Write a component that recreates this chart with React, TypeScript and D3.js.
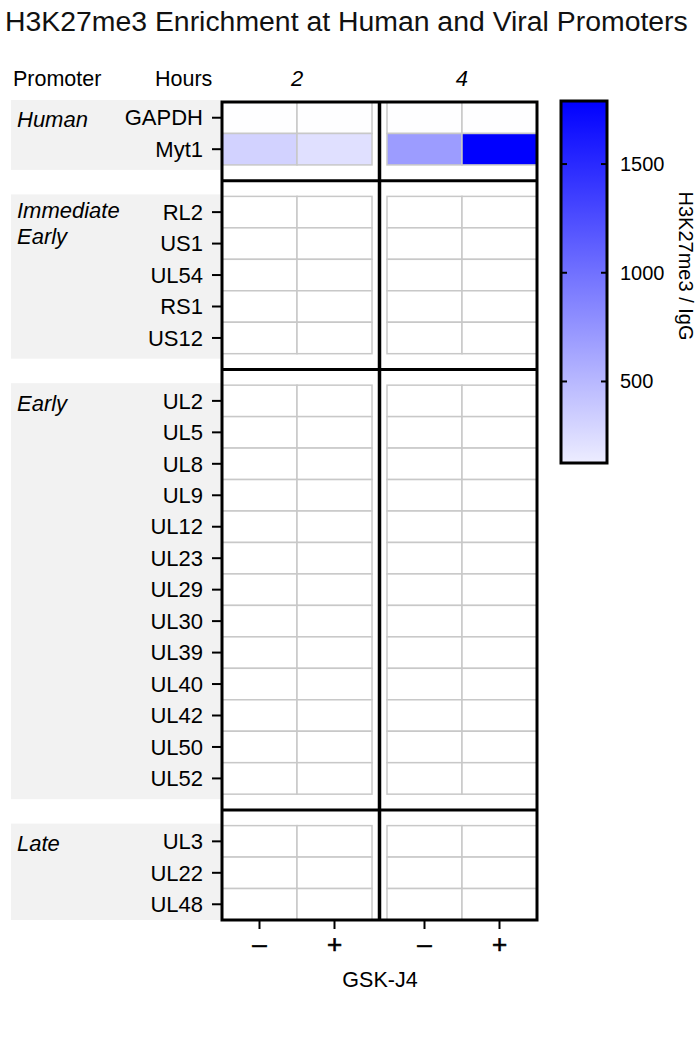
import React from "react";
import * as d3 from "d3";

// ---- data ----
const title = "H3K27me3 Enrichment at Human and Viral Promoters";
const hours = ["2", "4"];
const treatments = ["–", "+"];
const groups = ["Human", "Immediate Early", "Early", "Late"];
const humanRows = ["GAPDH", "Myt1"];
const immediateEarlyRows = ["RL2", "US1", "UL54", "RS1", "US12"];
const earlyRows = ["UL2", "UL5", "UL8", "UL9", "UL12", "UL23", "UL29", "UL30", "UL39", "UL40", "UL42", "UL50", "UL52"];
const lateRows = ["UL3", "UL22", "UL48"];
// values per row: [2h –, 2h +, 4h –, 4h +]
const humanValues = [
  [4, 4, 6, 6],
  [316, 218, 695, 1790],
];
const immediateEarlyValues = [
  [1, 1, 1, 1],
  [1, 1, 1, 1],
  [1, 1, 1, 1],
  [1, 1, 1, 1],
  [1, 1, 1, 1],
];
const earlyValues = [
  [1, 1, 1, 1],
  [1, 1, 1, 1],
  [1, 1, 1, 1],
  [1, 1, 1, 1],
  [1, 1, 1, 1],
  [1, 1, 1, 1],
  [1, 1, 1, 1],
  [1, 1, 1, 1],
  [1, 1, 1, 1],
  [1, 1, 1, 1],
  [1, 1, 1, 1],
  [1, 1, 1, 1],
  [1, 1, 1, 1],
];
const lateValues = [
  [1, 1, 1, 1],
  [1, 1, 1, 1],
  [1, 1, 1, 1],
];
const colorDomain = [0, 1790];
const legendDomain = [125, 1790];
const legendTicks = [500, 1000, 1500];
const legendTitle = "H3K27me3 / IgG";
const xTitle = "GSK-J4";

const FONT = "'Liberation Sans', Arial, Helvetica, sans-serif";

export default function App() {
  const W = 698, H = 1050;
  const plot = { left: 222, right: 537, top: 102, bottom: 920 };

  const groupRows = [humanRows, immediateEarlyRows, earlyRows, lateRows];
  const groupVals = [humanValues, immediateEarlyValues, earlyValues, lateValues];

  // y slots: rows, with a gap slot between groups
  const slots: string[] = [];
  groupRows.forEach((rows, gi) => {
    rows.forEach((r) => slots.push(r));
    if (gi < groupRows.length - 1) slots.push(`gap${gi}`);
  });
  const y = d3.scaleBand<string>().domain(slots).range([plot.top, plot.bottom]).padding(0);
  const bw = y.bandwidth();

  const xOuter = d3.scaleBand<string>().domain(hours).range([plot.left, plot.right]).paddingInner(0.0909).paddingOuter(0);
  const xInner = d3.scaleBand<string>().domain(treatments).range([0, xOuter.bandwidth()]).padding(0);
  const colX = (h: string, t: string) => (xOuter(h) as number) + (xInner(t) as number);

  const color = d3.scaleLinear<string>().domain(colorDomain).range(["#ffffff", "#0000ff"]).clamp(true);

  const cells: { x: number; y: number; w: number; h: number; c: string; key: string }[] = [];
  groupRows.forEach((rows, gi) => {
    rows.forEach((r, ri) => {
      hours.forEach((h, hi) => {
        treatments.forEach((t, ti) => {
          const v = groupVals[gi][ri][hi * 2 + ti];
          cells.push({ x: colX(h, t), y: y(r) as number, w: xInner.bandwidth(), h: bw, c: color(v), key: `${r}-${h}-${t}` });
        });
      });
    });
  });

  const gapLines = groupRows.slice(0, -1).map((_, gi) => (y(`gap${gi}`) as number) + bw / 2);
  const vDivider = ((xOuter(hours[0]) as number) + xOuter.bandwidth() + (xOuter(hours[1]) as number)) / 2;

  // legend
  const leg = { x0: 561, x1: 607, top: 101, bottom: 463 };
  const ly = d3.scaleLinear().domain(legendDomain).range([leg.bottom, leg.top]);
  const gradStops = d3.range(0, 11).map((i) => {
    const v = legendDomain[0] + (i / 10) * (legendDomain[1] - legendDomain[0]);
    return { off: `${i * 10}%`, c: color(v) };
  });

  const allRowLabels = groupRows.flat();

  return (
    <svg width={W} height={H} style={{ position: "absolute", left: 0, top: 0, background: "#fff" }} fontFamily={FONT}>
      <defs>
        <linearGradient id="legGrad" x1="0" y1="1" x2="0" y2="0">
          {gradStops.map((s) => (
            <stop key={s.off} offset={s.off} stopColor={s.c} />
          ))}
        </linearGradient>
      </defs>
      <rect width={W} height={H} fill="#fff" />
      <text x={5} y={31} fontSize={28.4} fill="#111">{title}</text>

      {/* header */}
      <text x={13} y={78} fontSize={21.5} dy="0.35em">Promoter</text>
      <text x={155} y={78} fontSize={21.5} dy="0.35em">Hours</text>
      {hours.map((h) => (
        <text key={h} x={(xOuter(h) as number) + xOuter.bandwidth() / 2} y={78} fontSize={22} dy="0.35em" fontStyle="italic" textAnchor="middle">{h}</text>
      ))}

      {/* group bands */}
      {groupRows.map((rows, gi) => {
        const top = (y(rows[0]) as number) - 2;
        const bot = Math.min((y(rows[rows.length - 1]) as number) + bw + 5, plot.bottom);
        return <rect key={gi} x={11} y={top} width={plot.left - 11} height={bot - top} fill="#f2f2f2" />;
      })}
      {groups.map((g, gi) => {
        const yc = (y(groupRows[gi][0]) as number) + bw / 2 + 2;
        const words = g === "Immediate Early" ? ["Immediate", "Early"] : [g];
        return words.map((w, wi) => (
          <text key={`${g}-${wi}`} x={17} y={yc - (words.length > 1 ? 4 : 0) + wi * 26} dy="0.35em" fontSize={22} fontStyle="italic">{w}</text>
        ));
      })}

      {/* row labels and ticks */}
      {allRowLabels.map((r) => {
        const yc = (y(r) as number) + bw / 2;
        return (
          <g key={r}>
            <text x={203} y={yc} dy="0.35em" fontSize={22} textAnchor="end">{r}</text>
            <line x1={212} x2={plot.left} y1={yc} y2={yc} stroke="#000" strokeWidth={2} />
          </g>
        );
      })}

      {/* cells */}
      {cells.map((c) => (
        <rect key={c.key} x={c.x} y={c.y} width={c.w} height={c.h} fill={c.c} stroke="#c8c8c8" strokeWidth={1.5} />
      ))}

      {/* frame and dividers */}
      {gapLines.map((gy, i) => (
        <line key={i} x1={plot.left} x2={plot.right + 1} y1={gy} y2={gy} stroke="#000" strokeWidth={3} />
      ))}
      <line x1={vDivider} x2={vDivider} y1={plot.top} y2={plot.bottom} stroke="#000" strokeWidth={3.5} />
      <rect x={plot.left} y={plot.top} width={plot.right - plot.left} height={plot.bottom - plot.top} fill="none" stroke="#000" strokeWidth={3} />

      {/* x ticks */}
      {hours.map((h) =>
        treatments.map((t) => {
          const xc = colX(h, t) + xInner.bandwidth() / 2;
          return (
            <g key={`${h}${t}`}>
              <line x1={xc} x2={xc} y1={plot.bottom} y2={plot.bottom + 9} stroke="#000" strokeWidth={2} />
              <text x={xc} y={944} dy="0.35em" fontSize={26} textAnchor="middle" stroke="#000" strokeWidth={0.6}>{t}</text>
            </g>
          );
        })
      )}
      <text x={(plot.left + plot.right) / 2 + 0.5} y={979} dy="0.35em" fontSize={21.5} textAnchor="middle">{xTitle}</text>

      {/* legend */}
      <rect x={leg.x0} y={leg.top} width={leg.x1 - leg.x0} height={leg.bottom - leg.top} fill="url(#legGrad)" stroke="#000" strokeWidth={3} />
      {legendTicks.map((t) => (
        <g key={t}>
          <line x1={leg.x0} x2={leg.x0 + 6} y1={ly(t)} y2={ly(t)} stroke="#000" strokeWidth={2} />
          <line x1={leg.x1 - 6} x2={leg.x1} y1={ly(t)} y2={ly(t)} stroke="#000" strokeWidth={2} />
          <text x={620} y={ly(t)} dy="0.35em" fontSize={20}>{t}</text>
        </g>
      ))}
      <text transform={`translate(686, ${(leg.top + leg.bottom) / 2 - 16}) rotate(90)`} textAnchor="middle" dy="0.35em" fontSize={20}>{legendTitle}</text>
    </svg>
  );
}
